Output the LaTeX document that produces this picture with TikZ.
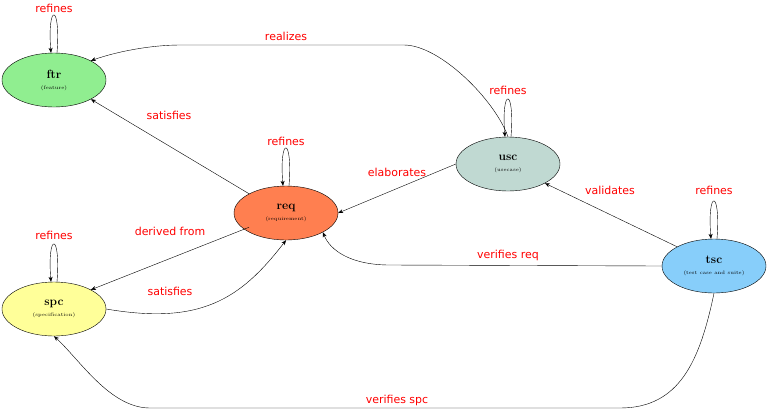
\documentclass[tikz,border=0pt]{standalone}
\usepackage{fontspec}
\newfontfamily\lblfont{DejaVu Sans}
\usetikzlibrary{shapes.geometric,arrows.meta}
\definecolor{cftr}{HTML}{90EE90}
\definecolor{creq}{HTML}{FF7F50}
\definecolor{cusc}{HTML}{C0D9D2}
\definecolor{cspc}{HTML}{FFFF99}
\definecolor{ctsc}{HTML}{87CEFA}
\tikzset{
  st/.style={ellipse, draw=black, thin, minimum width=104bp, minimum height=54bp, inner sep=0pt, align=center, font=\bfseries\large},
  lbl/.style={text=red, font=\lblfont\fontsize{11}{13}\selectfont},
  edge/.style={draw=black, thin, -{Stealth[length=5pt,width=4pt]}},
  sub/.style={font=\fontsize{5}{5}\selectfont\mdseries}
}
\begin{document}
\begin{tikzpicture}[x=1bp,y=-1bp]
\useasboundingbox (0,0) rectangle (768,412);
\node[st, fill=cftr] (ftr) at (54,80) {ftr\\[-3pt]{\fontsize{5}{5}\selectfont\mdseries (feature)}};
\node[st, fill=creq] (req) at (286,213) {req\\[-3pt]{\fontsize{5}{5}\selectfont\mdseries (requirement)}};
\node[st, fill=cusc] (usc) at (508,164) {usc\\[-3pt]{\fontsize{5}{5}\selectfont\mdseries (usecase)}};
\node[st, fill=cspc] (spc) at (54,309) {spc\\[-3pt]{\fontsize{5}{5}\selectfont\mdseries (specification)}};
\node[st, fill=ctsc] (tsc) at (714,266) {tsc\\[-3pt]{\fontsize{5}{5}\selectfont\mdseries (test case and suite)}};

% self loops
\foreach \n/\x/\y in {ftr/54/80, req/286/213, usc/508/164, spc/54/309, tsc/714/266}{
  \draw[edge] ([xshift=3bp]\n.north) .. controls +(4,-50) and +(-4,-50) .. ([xshift=-3bp]\n.north);
}
\node[lbl] (l1) at (54,8) {refines};
\node[lbl] (l2) at (286,141) {refines};
\node[lbl] (l3) at (508,90) {refines};
\node[lbl] (l4) at (54,235) {refines};
\node[lbl] (l5) at (714,190) {refines};

\coordinate (r1) at (404,45);
\coordinate (r2) at (180,45);
\draw[edge] (usc.north) .. controls (495,100) and (440,45) .. (r1) -- (r2) .. controls (150,45) and (115,52) .. (ftr.north east);
\node[lbl] (lr) at (286,36) {realizes};

\draw[edge] (req.north west) -- (ftr.south east);
\node[lbl] (ls1) at (169,115) {satisfies};

\draw[edge] (usc.west) -- (req.east);
\node[lbl] (le) at (397,172) {elaborates};

\draw[edge] (tsc.north west) -- (usc.south east);
\node[lbl] (lv) at (610,190) {validates};

\coordinate (v1) at (390,265);
\draw[edge] (tsc.west) -- (v1) .. controls (350,265) and (330,250) .. (req.south east);
\node[lbl] (lvr) at (508,255) {verifies req};

\draw[edge] ([yshift=5bp]req.south west) -- (spc.north east);
\node[lbl] (ld) at (170,231) {derived from};

\draw[edge] (spc.east) .. controls (200,325) and (240,300) .. (req.south);
\node[lbl] (ls2) at (170,291) {satisfies};

\coordinate (s1) at (620,408);
\coordinate (s2) at (150,408);
\draw[edge] (tsc.south) .. controls (700,360) and (680,408) .. (s1) -- (s2) .. controls (110,408) and (80,360) .. (spc.south);
\node[lbl] (lvs) at (397,400) {verifies spc};
\end{tikzpicture}
\end{document}
